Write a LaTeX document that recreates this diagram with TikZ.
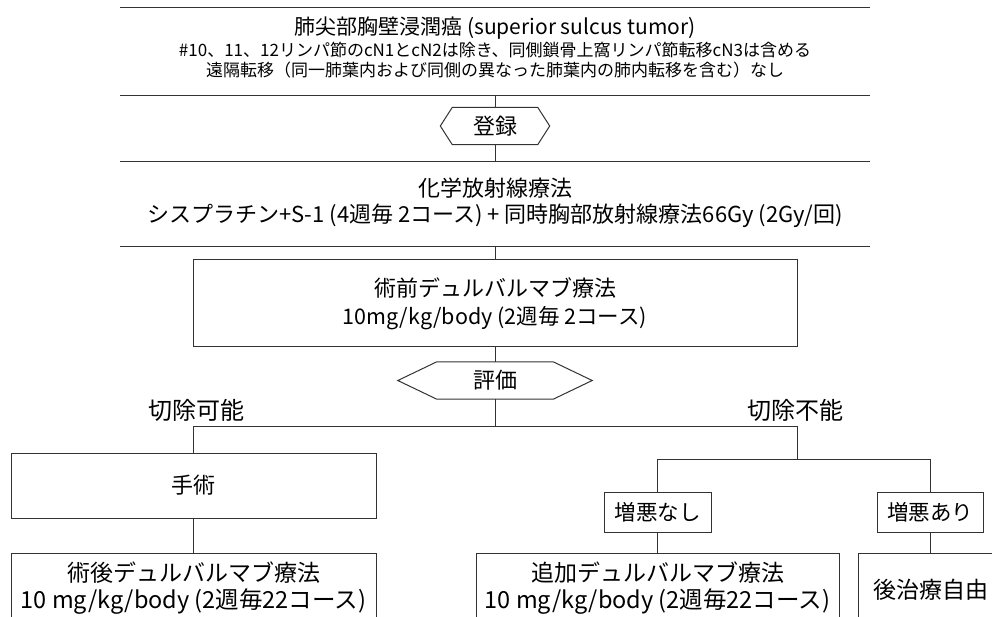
\documentclass[tikz,border=0pt]{standalone}
\usepackage{fontspec}
\setmainfont{Noto Sans CJK JP}
\begin{document}
\begin{tikzpicture}[x=1pt,y=-1pt,
  ln/.style={draw=black!80, line width=1pt},
  box/.style={ln, inner sep=0pt, align=center},
  hollow/.style={draw=none, inner sep=0pt},
  txt/.style={inner sep=0pt, align=center},
  fa/.style={font=\fontsize{21}{21}\selectfont},
  fb/.style={font=\fontsize{17}{17}\selectfont},
  fc/.style={font=\fontsize{22}{22}\selectfont},
  fd/.style={font=\fontsize{21.5}{21.5}\selectfont},
  fg/.style={font=\fontsize{23}{23}\selectfont},
  fh/.style={font=\fontsize{23.5}{23.5}\selectfont},
  fe/.style={font=\fontsize{24}{24}\selectfont}]
\useasboundingbox (0,0) rectangle (992,616);
\fill[white] (0,0) rectangle (992,616);
\clip (0,0) rectangle (992,616);

% top box (horizontal rules only)
\node[hollow, minimum width=750, minimum height=87] (topbox) at (495,51.5) {};
\draw[ln] (topbox.north west) -- (topbox.north east);
\draw[ln] (topbox.south west) -- (topbox.south east);
\node[txt, fa] (t1) at (495,28) {肺尖部胸壁浸潤癌 (superior sulcus tumor)};
\node[txt, fb] (t2) at (495,50) {\#10、11、12リンパ節のcN1とcN2は除き、同側鎖骨上窩リンパ節転移cN3は含める};
\node[txt, fb] (t3) at (495,70) {遠隔転移（同一肺葉内および同側の異なった肺葉内の肺内転移を含む）なし};

% registration hexagon
\node[hollow, minimum width=85, minimum height=37, fc] (reg) at (495,126) {登録};
\draw[ln] (reg.north west) -- (reg.north east) -- ([xshift=12pt]reg.east) -- (reg.south east)
  -- (reg.south west) -- ([xshift=-12pt]reg.west) -- cycle;

% chemoradiotherapy
\node[hollow, minimum width=750, minimum height=84] (chemo) at (495,204) {};
\draw[ln] (chemo.north west) -- (chemo.north east);
\draw[ln] (chemo.south west) -- (chemo.south east);
\node[txt, fc] (c1) at (495,188) {化学放射線療法};
\node[txt, fc] (c2) at (495,216) {シスプラチン+S-1 (4週毎 2コース) + 同時胸部放射線療法66Gy (2Gy/回)};

% neoadjuvant durvalumab
\node[box, minimum width=604, minimum height=87] (durva) at (495,302.5) {};
\node[txt, fc] (d1) at (495,288) {術前デュルバルマブ療法};
\node[txt, fd] (d2) at (495,318) {10mg/kg/body (2週毎 2コース)};

% evaluation hexagon
\node[hollow, minimum width=116, minimum height=37, fc] (eval) at (495,380.5) {評価};
\draw[ln] (eval.north west) -- (eval.north east) -- ([xshift=39pt]eval.east) -- (eval.south east)
  -- (eval.south west) -- ([xshift=-39pt]eval.west) -- cycle;

\node[txt, fe] (lres) at (196,410) {切除可能};
\node[txt, fe] (lunres) at (795,410) {切除不能};

% boxes of lower part
\node[box, minimum width=365, minimum height=65, fc] (surg) at (193.5,485.5) {手術};
\node[box, minimum width=107, minimum height=40, fd] (nopd) at (657.5,512) {増悪なし};
\node[box, minimum width=106, minimum height=40, fd] (pd) at (930,512) {増悪あり};
\node[box, minimum width=365, minimum height=107] (post) at (193.5,606.5) {};
\node[box, minimum width=363, minimum height=107] (addl) at (657.5,606.5) {};
\node[box, minimum width=144, minimum height=107] (free) at (930,606.5) {};
\node[txt, fg] (p1) at (193.5,573) {術後デュルバルマブ療法};
\node[txt, fh] (p2) at (193.5,602) {10 mg/kg/body (2週毎22コース)};
\node[txt, fg] (a1) at (657.5,573) {追加デュルバルマブ療法};
\node[txt, fh] (a2) at (657.5,602) {10 mg/kg/body (2週毎22コース)};
\node[txt, fg] (f1) at (931,590) {後治療自由};

% connectors
\coordinate (j) at (495,426);
\coordinate (jl) at (193.5,426);
\coordinate (jr) at (797,426);
\coordinate (k) at (797,459);
\coordinate (kl) at (657.5,459);
\coordinate (kr) at (930,459);
\draw[ln] (topbox.south) -- (reg.north);
\draw[ln] (reg.south) -- (chemo.north);
\draw[ln] (chemo.south) -- (durva.north);
\draw[ln] (durva.south) -- (eval.north);
\draw[ln] (eval.south) -- (j);
\draw[ln] (jl) -- (jr);
\draw[ln] (jl) -- (surg.north);
\draw[ln] (jr) -- (k);
\draw[ln] (kl) -- (kr);
\draw[ln] (kl) -- (nopd.north);
\draw[ln] (kr) -- (pd.north);
\draw[ln] (surg.south) -- (post.north);
\draw[ln] (nopd.south) -- (addl.north);
\draw[ln] (pd.south) -- (free.north);
\end{tikzpicture}
\end{document}
